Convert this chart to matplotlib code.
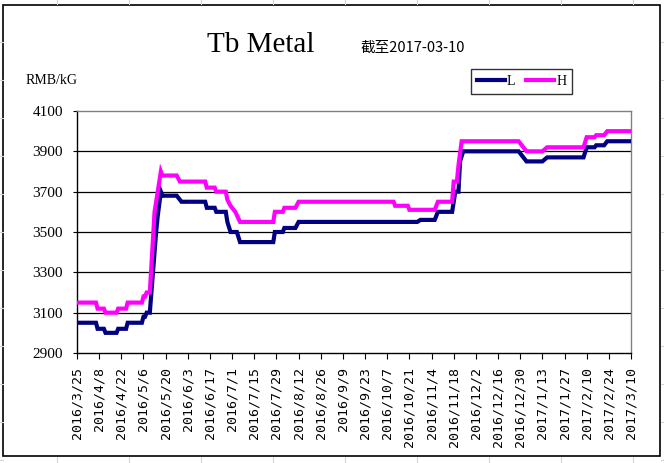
"""
Tb Metal price chart (L / H), recreated with matplotlib
"""

import pandas as pd
import matplotlib
matplotlib.use('Agg')
import matplotlib.pyplot as plt
from matplotlib.lines import Line2D

# ---- data ----
l_dates = ['2016-03-25', '2016-04-06', '2016-04-07', '2016-04-11', '2016-04-12',
           '2016-04-19', '2016-04-20', '2016-04-25', '2016-04-26', '2016-05-05',
           '2016-05-06', '2016-05-07', '2016-05-08', '2016-05-10', '2016-05-14',
           '2016-05-15', '2016-05-17', '2016-05-18', '2016-05-27', '2016-05-30',
           '2016-06-14', '2016-06-15', '2016-06-20', '2016-06-21', '2016-06-27',
           '2016-06-28', '2016-06-30', '2016-07-04', '2016-07-06', '2016-07-27',
           '2016-07-28', '2016-08-02', '2016-08-03', '2016-08-10', '2016-08-12',
           '2016-10-26', '2016-10-28', '2016-11-06', '2016-11-08', '2016-11-17',
           '2016-11-19', '2016-11-21', '2016-11-22', '2016-11-24', '2016-12-29',
           '2017-01-03', '2017-01-13', '2017-01-16', '2017-02-08', '2017-02-10',
           '2017-02-15', '2017-02-16', '2017-02-21', '2017-02-23', '2017-03-10']
l_vals = [3050, 3050, 3020, 3020, 3000,
          3000, 3020, 3020, 3050, 3050,
          3080, 3080, 3100, 3100, 3500,
          3580, 3700, 3680, 3680, 3650,
          3650, 3620, 3620, 3600, 3600,
          3550, 3500, 3500, 3450, 3450,
          3500, 3500, 3520, 3520, 3550,
          3550, 3560, 3560, 3600, 3600,
          3700, 3700, 3850, 3900, 3900,
          3850, 3850, 3870, 3870, 3920,
          3920, 3930, 3930, 3950, 3950]

h_dates = ['2016-03-25', '2016-04-06', '2016-04-07', '2016-04-11', '2016-04-12',
           '2016-04-19', '2016-04-20', '2016-04-25', '2016-04-26', '2016-05-05',
           '2016-05-06', '2016-05-07', '2016-05-08', '2016-05-10', '2016-05-13',
           '2016-05-14', '2016-05-17', '2016-05-18', '2016-05-27', '2016-05-29',
           '2016-06-14', '2016-06-15', '2016-06-20', '2016-06-21', '2016-06-27',
           '2016-06-28', '2016-06-30', '2016-07-03', '2016-07-06', '2016-07-27',
           '2016-07-28', '2016-08-02', '2016-08-03', '2016-08-10', '2016-08-12',
           '2016-10-11', '2016-10-12', '2016-10-20', '2016-10-21', '2016-11-06',
           '2016-11-08', '2016-11-17', '2016-11-18', '2016-11-20', '2016-11-21',
           '2016-11-23', '2016-12-29', '2017-01-03', '2017-01-13', '2017-01-16',
           '2017-02-08', '2017-02-10', '2017-02-15', '2017-02-16', '2017-02-21',
           '2017-02-23', '2017-03-10']
h_vals = [3150, 3150, 3120, 3120, 3100,
          3100, 3120, 3120, 3150, 3150,
          3180, 3180, 3200, 3200, 3600,
          3650, 3800, 3780, 3780, 3750,
          3750, 3720, 3720, 3700, 3700,
          3660, 3630, 3600, 3550, 3550,
          3600, 3600, 3620, 3620, 3650,
          3650, 3630, 3630, 3610, 3610,
          3650, 3650, 3750, 3750, 3830,
          3950, 3950, 3900, 3900, 3920,
          3920, 3970, 3970, 3980, 3980,
          4000, 4000]

tick_labels = ['2016/3/25', '2016/4/8', '2016/4/22', '2016/5/6', '2016/5/20',
               '2016/6/3', '2016/6/17', '2016/7/1', '2016/7/15', '2016/7/29',
               '2016/8/12', '2016/8/26', '2016/9/9', '2016/9/23', '2016/10/7',
               '2016/10/21', '2016/11/4', '2016/11/18', '2016/12/2', '2016/12/16',
               '2016/12/30', '2017/1/13', '2017/1/27', '2017/2/10', '2017/2/24',
               '2017/3/10']
y_ticks = [2900, 3100, 3300, 3500, 3700, 3900, 4100]

title = 'Tb Metal'
subtitle = '截至2017-03-10'
unit = 'RMB/kG'

NAVY = '#000080'
MAGENTA = '#ff00ff'
SERIF = ['Liberation Serif', 'DejaVu Serif']


def main():
    W, H = 664, 463
    fig = plt.figure(figsize=(W / 100, H / 100), dpi=100)
    fig.patch.set_facecolor('white')

    # faint spreadsheet cell lines outside the chart border
    bg = fig.add_axes([0, 0, 1, 1])
    bg.set_xlim(0, W)
    bg.set_ylim(H, 0)
    bg.axis('off')
    for x in range(57, W, 72):
        bg.plot([x, x], [0, 4], color='#d4d4d4', lw=0.8)
        bg.plot([x, x], [457, H], color='#d4d4d4', lw=0.8)
    for y in range(42, H, 38):
        bg.plot([0, 3], [y, y], color='#d4d4d4', lw=0.8)
        bg.plot([661, W], [y, y], color='#d4d4d4', lw=0.8)
    bg.add_patch(plt.Rectangle((3, 5), 657, 451, fill=False,
                               edgecolor='black', lw=1.2))

    # title texts
    fig.text(261 / W, 1 - 45 / H, title, family=SERIF, fontsize=21,
             ha='center', va='center')
    fig.text(360 / W, 1 - 48 / H, subtitle,
             family=['Noto Sans CJK SC', 'DejaVu Sans'], fontsize=10.5,
             ha='left', va='center')
    fig.text(26 / W, 1 - 81 / H, unit, family=SERIF, fontsize=10,
             ha='left', va='center')

    # plot area
    ax = fig.add_axes([77 / W, 1 - 353 / H, (631 - 77) / W, (353 - 111) / H])
    ld = pd.to_datetime(l_dates)
    hd = pd.to_datetime(h_dates)
    ax.plot(ld, l_vals, color=NAVY, lw=3, solid_joinstyle='miter', zorder=3)
    ax.plot(hd, h_vals, color=MAGENTA, lw=3, solid_joinstyle='miter', zorder=4)

    tick_dates = pd.to_datetime(tick_labels, format='%Y/%m/%d')
    ax.set_xlim(tick_dates[0], tick_dates[-1])
    ax.set_ylim(y_ticks[0], y_ticks[-1])
    ax.set_xticks(tick_dates)
    ax.set_xticklabels(tick_labels, rotation=90, va='top', ha='center',
                       family='DejaVu Sans Mono', fontsize=9.5)
    ax.set_yticks(y_ticks)
    ax.set_yticklabels([str(v) for v in y_ticks], family=SERIF, fontsize=11)
    ax.tick_params(axis='x', direction='out', length=4, width=0.8, pad=6,
                   color='black')
    ax.tick_params(axis='y', direction='out', length=3, width=0.8, pad=7,
                   color='black')

    for v in y_ticks[1:-1]:
        ax.axhline(v, color='black', lw=0.9, zorder=1)

    ax.spines['left'].set_color('black')
    ax.spines['bottom'].set_color('black')
    ax.spines['top'].set_color('#808080')
    ax.spines['right'].set_color('#808080')
    for s in ax.spines.values():
        s.set_linewidth(1.0)

    # legend
    handles = [Line2D([], [], color=NAVY, lw=3),
               Line2D([], [], color=MAGENTA, lw=3)]
    leg = fig.legend(handles, ['L', 'H'], loc='center',
                     bbox_to_anchor=(521.5 / W, 1 - 81.5 / H), ncol=2,
                     frameon=True, fancybox=False, shadow=False,
                     handlelength=2.0, handletextpad=0.15, columnspacing=0.8,
                     borderpad=0.4, borderaxespad=0,
                     prop={'family': SERIF, 'size': 10})
    leg.get_frame().set_edgecolor('black')
    leg.get_frame().set_linewidth(1.0)

    fig.savefig('out.png', dpi=100)


if __name__ == "__main__":
    main()
